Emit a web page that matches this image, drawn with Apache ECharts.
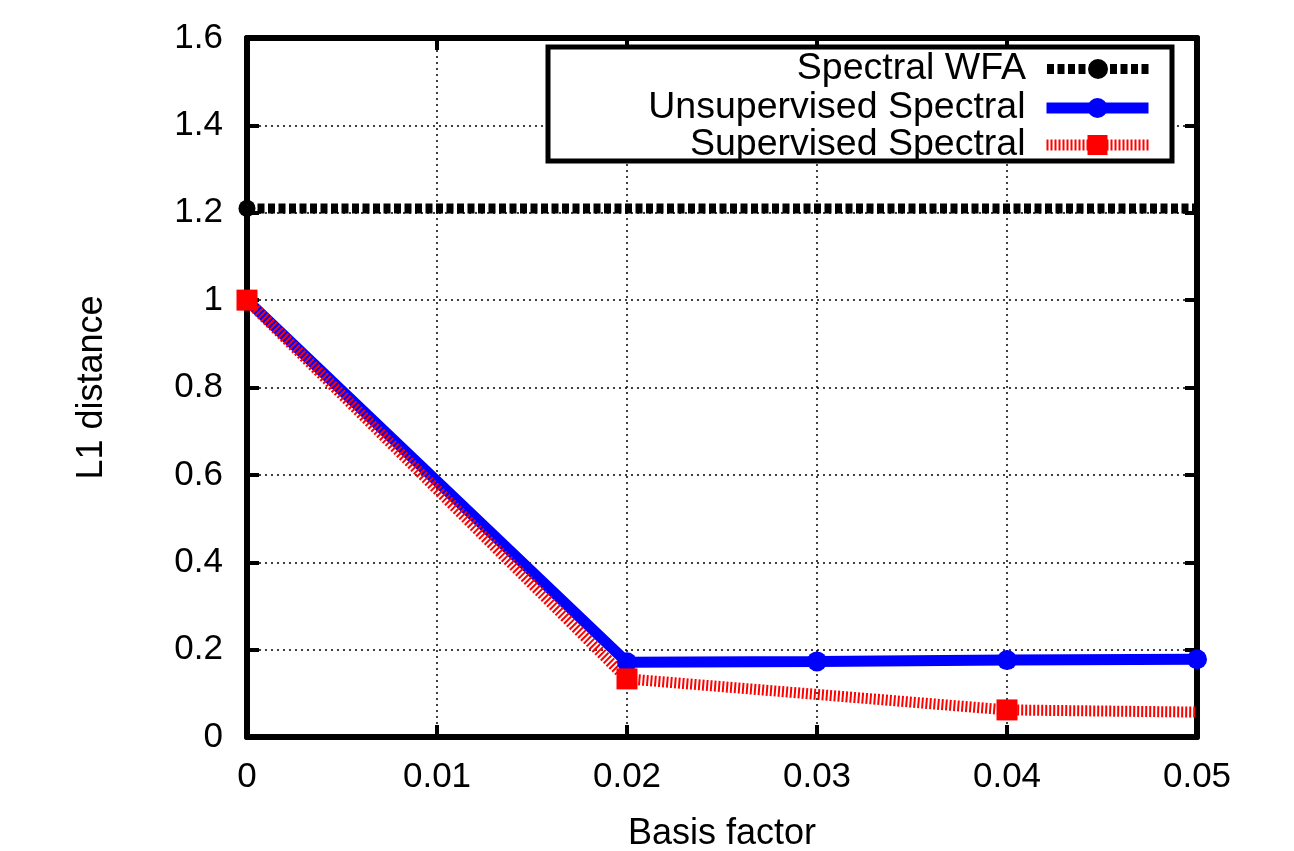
<!DOCTYPE html>
<html>
<head>
<meta charset="utf-8">
<script src="https://cdn.jsdelivr.net/npm/echarts@6/dist/echarts.min.js"></script>
<style>
  html, body { margin: 0; padding: 0; background: #fff; }
  #chart { width: 1294px; height: 851px; }
</style>
</head>
<body>
<div id="chart"></div>
<script>
// values
const xTicks = [0, 0.01, 0.02, 0.03, 0.04, 0.05];
const yTicks = [0, 0.2, 0.4, 0.6, 0.8, 1, 1.2, 1.4, 1.6];

const wfaX = [0, 0.05];
const wfaY = [1.21, 1.21];
const wfaMarks = [true, false];

const unsupX = [0, 0.02, 0.03, 0.04, 0.05];
const unsupY = [1.0, 0.171, 0.173, 0.176, 0.178];
const unsupMarks = [true, true, true, true, true];

const supX = [0, 0.02, 0.04, 0.05];
const supY = [1.0, 0.133, 0.062, 0.057];
const supMarks = [true, true, true, false];

const names = ['Spectral WFA', 'Unsupervised Spectral', 'Supervised Spectral'];

const FONT = '"Liberation Sans", Arial, sans-serif';

function toData(xs, ys, marks) {
  return xs.map((x, i) => ({
    value: [x, ys[i]],
    symbol: marks[i] ? undefined : 'none',
  }));
}

function mirrorAxis(pos) {
  return {
    type: 'value',
    position: pos,
    min: pos === 'top' ? xTicks[0] : yTicks[0],
    max: pos === 'top' ? xTicks[xTicks.length - 1] : yTicks[yTicks.length - 1],
    interval: pos === 'top' ? 0.01 : 0.2,
    axisLine: { show: true, onZero: false, lineStyle: { color: '#000', width: 6 } },
    axisTick: { show: true, inside: true, length: 12, lineStyle: { color: '#000', width: 4 } },
    axisLabel: { show: false },
    splitLine: { show: false },
  };
}

function legendRow(name, top) {
  return {
    data: [name],
    right: 140,
    top: top,
    align: 'right',
    padding: 0,
    itemWidth: 102,
    itemHeight: 25,
    selectedMode: false,
    lineStyle: { width: 'inherit' },
    textStyle: {
      fontFamily: FONT,
      fontSize: 37.5,
      lineHeight: 37,
      color: '#000',
      padding: [0, 16, 0, 0],
    },
  };
}

const chart = echarts.init(document.getElementById('chart'), null, { renderer: 'canvas' });

chart.setOption({
  animation: false,
  backgroundColor: '#fff',
  grid: { left: 247, right: 97, top: 38, bottom: 114, outerBoundsMode: 'none', containLabel: false },
  graphic: [
    {
      type: 'rect',
      z: 3,
      shape: { x: 548, y: 47, width: 624, height: 114 },
      style: { fill: '#fff', stroke: '#000', lineWidth: 5 },
    },
  ],
  legend: [
    legendRow(names[0], 50),
    legendRow(names[1], 89),
    legendRow(names[2], 126),
  ],
  xAxis: [
    {
      type: 'value',
      min: xTicks[0],
      max: xTicks[xTicks.length - 1],
      interval: 0.01,
      name: 'Basis factor',
      nameLocation: 'middle',
      nameGap: 79,
      nameTextStyle: { fontFamily: FONT, fontSize: 36, color: '#000' },
      axisLine: { show: true, onZero: false, lineStyle: { color: '#000', width: 6 } },
      axisTick: { show: true, inside: true, length: 12, lineStyle: { color: '#000', width: 4 } },
      axisLabel: { fontFamily: FONT, fontSize: 35, color: '#000', margin: 23 },
      splitLine: { show: true, lineStyle: { color: '#000', width: 1.5, type: [2, 4] } },
    },
    mirrorAxis('top'),
  ],
  yAxis: [
    {
      type: 'value',
      min: yTicks[0],
      max: yTicks[yTicks.length - 1],
      interval: 0.2,
      name: 'L1 distance',
      nameLocation: 'middle',
      nameGap: 137,
      nameTextStyle: { fontFamily: FONT, fontSize: 36, color: '#000' },
      axisLine: { show: true, onZero: false, lineStyle: { color: '#000', width: 6 } },
      axisTick: { show: true, inside: true, length: 12, lineStyle: { color: '#000', width: 4 } },
      axisLabel: { fontFamily: FONT, fontSize: 35, color: '#000', margin: 24 },
      splitLine: { show: true, lineStyle: { color: '#000', width: 1.5, type: [2, 4] } },
    },
    mirrorAxis('right'),
  ],
  series: [
    {
      name: names[0],
      type: 'line',
      clip: false,
      data: toData(wfaX, wfaY, wfaMarks),
      symbol: 'circle',
      symbolSize: 17,
      itemStyle: { color: '#000' },
      lineStyle: { color: '#000', width: 10, type: [7, 3.5] },
    },
    {
      name: names[1],
      type: 'line',
      clip: false,
      data: toData(unsupX, unsupY, unsupMarks),
      symbol: 'circle',
      symbolSize: 20,
      itemStyle: { color: '#0000ff' },
      lineStyle: { color: '#0000ff', width: 11 },
    },
    {
      name: names[2],
      type: 'line',
      clip: false,
      data: toData(supX, supY, supMarks),
      symbol: 'rect',
      symbolSize: 21,
      itemStyle: { color: '#ff0000' },
      lineStyle: { color: '#ff0000', width: 11, type: [2, 2] },
    },
  ],
});
</script>
</body>
</html>
